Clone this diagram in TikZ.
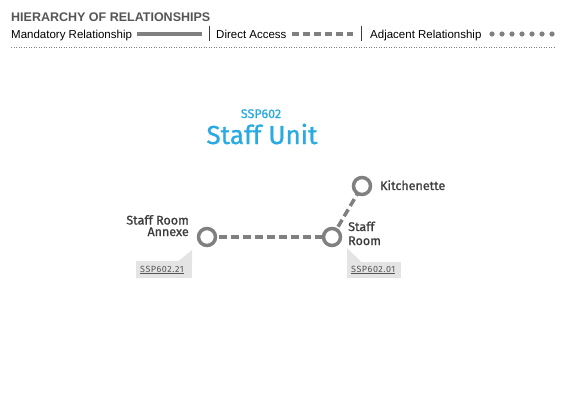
\documentclass[tikz,border=0pt]{standalone}
\usepackage{fontspec}
\setmainfont{Liberation Sans}
\newfontfamily\dinfont[FakeBold=1]{Fira Sans}
\newfontfamily\tagfont[LetterSpace=6]{Fira Sans}
\usetikzlibrary{positioning}
\definecolor{linegray}{HTML}{808080}
\definecolor{titlegray}{HTML}{555555}
\definecolor{labelgray}{HTML}{3C3C3C}
\definecolor{unitblue}{HTML}{29ABE2}
\definecolor{taggray}{HTML}{E4E4E4}

\tikzset{
	roomdot/.style={circle,draw=linegray,line width=3.5pt,minimum size=17pt,inner sep=0pt,fill=white},
	access/.style={draw=linegray,line width=3.5pt,dash pattern=on 8pt off 4pt},
	legendtext/.style={anchor=base west,inner sep=0pt,font=\fontsize{11.5}{12}\selectfont,text=black},
	roomlabel/.style={inner sep=0pt,font=\dinfont\fontsize{12.5}{12.5}\selectfont,text=labelgray},
	tagtext/.style={inner sep=0pt,anchor=base west,font=\tagfont\fontsize{9}{9}\selectfont,text=titlegray}
}

\begin{document}
\begin{tikzpicture}[x=1pt,y=-1pt]
	\useasboundingbox (0,0) rectangle (565,400);
	% header and legend
	\node[anchor=base west,inner sep=0pt,font=\bfseries\fontsize{12.5}{13}\selectfont,text=titlegray] (title) at (11,21) {HIERARCHY OF RELATIONSHIPS};
	\node[legendtext] (mandatory) at (11,38) {Mandatory Relationship};
	\coordinate (m1) at (137,34);
	\coordinate (m2) at (202,34);
	\draw[linegray,line width=3.5pt] (m1) -- (m2);
	\draw[labelgray,line width=0.6pt] (209,26) -- (209,41);
	\node[legendtext] (direct) at (216,38) {Direct Access};
	\coordinate (d1) at (292,34);
	\coordinate (d2) at (353,34);
	\draw[access,dash pattern=on 7pt off 4pt] (d1) -- (d2);
	\draw[labelgray,line width=0.6pt] (361,26) -- (361,41);
	\node[legendtext] (adjacent) at (370,38) {Adjacent Relationship};
	\foreach \i in {0,...,6}
		\fill[linegray] (492+\i*10,34) circle (2.6pt);
	\draw[linegray,line width=0.5pt,dotted] (11,47) -- (555,47);

	% unit heading
	\node[inner sep=0pt,anchor=base,font=\dinfont\fontsize{12.5}{12.5}\selectfont,text=unitblue] (code) at (261,118) {SSP602};
	\node[inner sep=0pt,anchor=base,font=\dinfont\fontsize{26}{26}\selectfont,text=unitblue] (unit) at (262,144) {Staff Unit};

	% tags
	\fill[taggray] (136,261) rectangle (192,278);
	\fill[taggray] (178,261.5) -- (192,250) -- (192,261.5) -- cycle;
	\node[tagtext] (annexetag) at (140,272) {\underline{SSP602.21}};
	\fill[taggray] (347,262) rectangle (401,278);
	\fill[taggray] (347,248) -- (362,262.5) -- (347,262.5) -- cycle;
	\node[tagtext] (roomtag) at (351,272) {\underline{SSP602.01}};

	% connectors
	\coordinate (annexe) at (207,237);
	\coordinate (room) at (332,237);
	\coordinate (kitchen) at (362,186);
	\draw[access] (annexe) -- (room);
	\draw[access] (room) -- (kitchen);

	% rooms
	\node[roomdot] (annexedot) at (annexe) {};
	\node[roomdot] (roomdot) at (room) {};
	\node[roomdot] (kitchendot) at (kitchen) {};
	\node[roomlabel,anchor=base east,align=right] (annexelabel) at (189,236) {Staff Room\\[-1pt]Annexe};
	\node[roomlabel,anchor=base west] (kitchenlabel) at (380,190) {Kitchenette};
	\node[roomlabel,anchor=base west] (roomlabel1) at (348,231) {Staff};
	\node[roomlabel,anchor=base west] (roomlabel2) at (348,245) {Room};
\end{tikzpicture}
\end{document}
